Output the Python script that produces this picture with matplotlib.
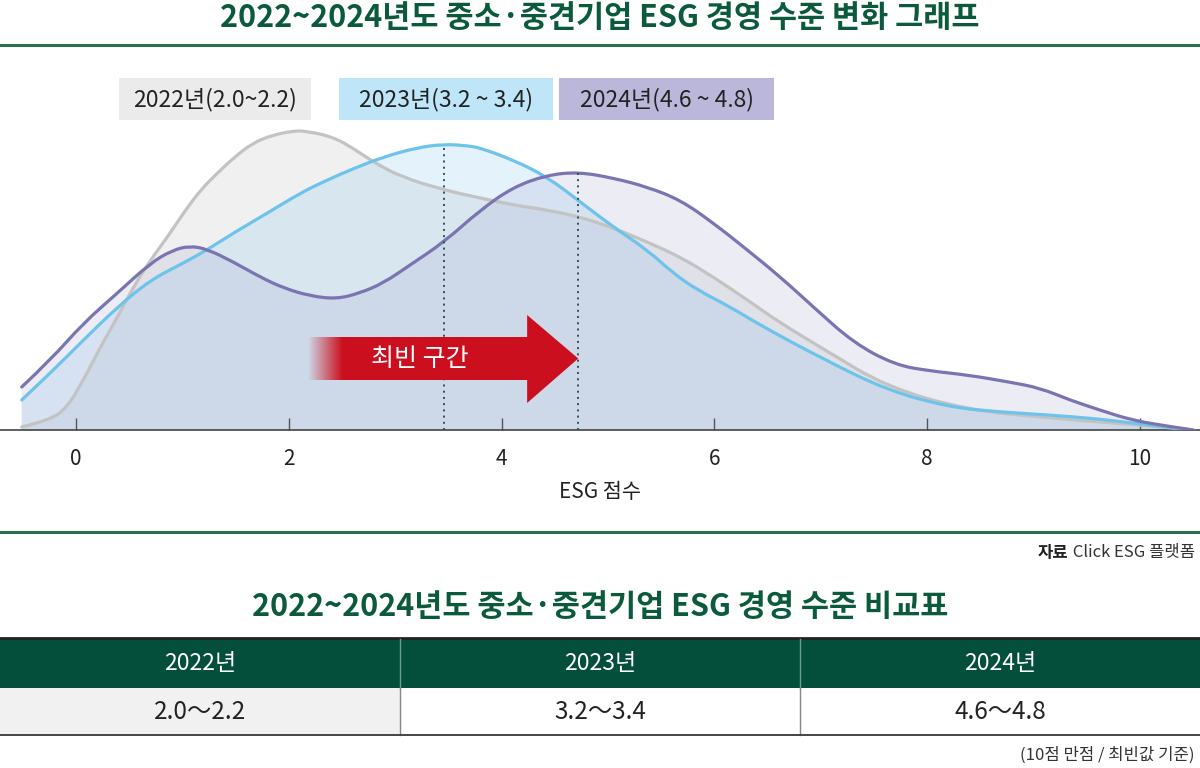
import matplotlib
matplotlib.use('Agg')
import matplotlib.pyplot as plt
import numpy as np
from matplotlib.patches import Rectangle, Polygon, PathPatch
from matplotlib.path import Path

plt.rcParams['font.family'] = ['Noto Sans CJK KR', 'DejaVu Sans']

# ---- data ----
years = ['2022', '2023', '2024']
mode_ranges = ['2.0~2.2', '3.2 ~ 3.4', '4.6 ~ 4.8']
table_ranges = ['2.0～2.2', '3.2～3.4', '4.6～4.8']

x22 = [-0.51, -0.24, -0.08, 0.07, 0.23, 0.39, 0.54, 0.70, 0.86, 1.01, 1.17, 1.33, 1.48, 1.66,
       1.85, 2.04, 2.16, 2.42, 2.63, 2.81, 3.06, 3.46, 3.80, 4.11, 4.43, 4.74, 5.05, 5.37,
       5.68, 5.99, 6.31, 6.62, 7.04, 7.62, 8.38, 9.15, 10.0, 10.5]
y22 = [0.003, 0.010, 0.023, 0.050, 0.083, 0.113, 0.143, 0.170, 0.193, 0.217, 0.240, 0.257,
       0.272, 0.287, 0.295, 0.299, 0.299, 0.293, 0.280, 0.267, 0.253, 0.240, 0.232, 0.225,
       0.220, 0.213, 0.202, 0.188, 0.173, 0.153, 0.130, 0.107, 0.080, 0.043, 0.020, 0.012,
       0.005, 0.000]

x23 = [-0.51, -0.24, 0.07, 0.39, 0.70, 1.01, 1.23, 1.48, 1.80, 2.11, 2.34, 2.62, 2.89, 3.19,
       3.46, 3.70, 3.80, 4.11, 4.43, 4.74, 5.05, 5.37, 5.61, 5.84, 6.15, 6.46, 7.04, 7.62,
       8.20, 8.68, 9.15, 9.62, 10.0, 10.5]
y23 = [0.030, 0.057, 0.090, 0.123, 0.150, 0.167, 0.180, 0.197, 0.217, 0.237, 0.249, 0.262,
       0.273, 0.282, 0.286, 0.284, 0.282, 0.270, 0.253, 0.228, 0.203, 0.180, 0.157, 0.140,
       0.123, 0.103, 0.070, 0.040, 0.023, 0.018, 0.015, 0.011, 0.006, 0.000]

x24 = [-0.51, -0.24, 0.07, 0.39, 0.70, 0.91, 1.07, 1.23, 1.48, 1.73, 1.95, 2.20, 2.45, 2.67,
       2.89, 3.14, 3.46, 3.80, 4.11, 4.43, 4.72, 5.05, 5.37, 5.68, 5.99, 6.31, 6.62, 6.93,
       7.31, 7.70, 8.03, 8.38, 8.77, 9.06, 9.34, 9.62, 9.92, 10.19, 10.5]
y24 = [0.043, 0.070, 0.107, 0.137, 0.167, 0.180, 0.184, 0.181, 0.168, 0.153, 0.142, 0.134,
       0.131, 0.137, 0.147, 0.165, 0.188, 0.220, 0.243, 0.255, 0.258, 0.252, 0.243, 0.230,
       0.207, 0.180, 0.153, 0.123, 0.087, 0.065, 0.059, 0.055, 0.048, 0.042, 0.030, 0.020,
       0.010, 0.005, 0.000]

xticks = [0, 2, 4, 6, 8, 10]

GREEN = '#0b5a3c'
W, H = 1200, 768


def smooth_path(xs, ys, closed=False):
    # quadratic bezier through midpoints, the read points act as control points
    pts = list(zip(xs, ys))
    verts, codes = [pts[0]], [Path.MOVETO]
    for i in range(1, len(pts) - 1):
        mid = ((pts[i][0] + pts[i + 1][0]) / 2, (pts[i][1] + pts[i + 1][1]) / 2)
        verts += [pts[i], mid]
        codes += [Path.CURVE3, Path.CURVE3]
    verts.append(pts[-1]); codes.append(Path.LINETO)
    if closed:
        verts += [(xs[-1], 0), (xs[0], 0), (xs[0], 0)]
        codes += [Path.LINETO, Path.LINETO, Path.CLOSEPOLY]
    return Path(verts, codes)


fig = plt.figure(figsize=(12, 7.68), dpi=100)

# pixel-space overlay for decorations
bg = fig.add_axes([0, 0, 1, 1], zorder=0)
bg.set_xlim(0, W); bg.set_ylim(H, 0); bg.axis('off')

# chart axes: x=0 at px 76, 106.4 px per unit, baseline at px 430
ppu = 106.4
ax = fig.add_axes([0, (H - 430) / H, 1, 380 / H], zorder=1)
ax.patch.set_alpha(0)

series = [
    (x22, y22, '#b8b8b8', '#c3c3c3'),
    (x23, y23, '#7cc2ec', '#6ec3ea'),
    (x24, y24, '#a2a2cc', '#7a74b0'),
]
for xs, ys, fc, lc in series:
    ax.add_patch(PathPatch(smooth_path(xs, ys, closed=True), facecolor=fc, alpha=0.2,
                           lw=0, zorder=1))
for xs, ys, fc, lc in series:
    ax.add_patch(PathPatch(smooth_path(xs, ys), facecolor='none', edgecolor=lc, lw=2.3,
                           capstyle='round', joinstyle='round', zorder=3))

# dotted mode lines
m23 = int(np.argmax(y23)); m24 = int(np.argmax(y24))
ax.vlines([x23[m23], x24[m24]], 0, [y23[m23], y24[m24]], colors='#2f4f5a',
          linestyles=(0, (1, 2.2)), lw=1.4, zorder=4)

# red gradient arrow toward the 2024 mode
tip = x24[m24]
x0, xh = 2.18, 4.24
bt, bb, ht, hb = 0.093, 0.050, 0.115, 0.027
ym = (bt + bb) / 2
arrow = Polygon([(x0, bb), (xh, bb), (xh, hb), (tip, ym), (xh, ht), (xh, bt), (x0, bt)],
                closed=True, facecolor='none', edgecolor='none', transform=ax.transData)
ax.add_patch(arrow)
grad = np.zeros((1, 400, 4))
grad[..., 0], grad[..., 1], grad[..., 2] = 0.80, 0.06, 0.12
xs_img = np.linspace(x0, tip, 400)
grad[0, :, 3] = np.clip((xs_img - x0) / 0.32, 0, 1)
im = ax.imshow(grad, extent=(x0, tip, hb, ht), aspect='auto', zorder=5, interpolation='bilinear')
im.set_clip_path(arrow)
ax.set_xlim(-76 / ppu, (W - 76) / ppu)
ax.set_ylim(0, 0.38)
ax.text(3.23, ym, '최빈 구간', color='white', fontsize=18, ha='center', va='center',
        fontweight='medium', zorder=6)

# axis styling
for s in ['top', 'right', 'left']:
    ax.spines[s].set_visible(False)
ax.spines['bottom'].set_color('#444444')
ax.spines['bottom'].set_linewidth(1.2)
ax.set_yticks([])
ax.set_xticks(xticks)
ax.set_xticklabels([str(t) for t in xticks])
ax.tick_params(axis='x', direction='in', length=9, width=1, color='#555555',
               labelsize=15, labelcolor='#222222', pad=13)
ax.set_xlabel('ESG 점수', fontsize=15, color='#222222', labelpad=8)

# titles and rules
bg.text(600, 18, '2022~2024년도 중소·중견기업 ESG 경영 수준 변화 그래프', fontsize=22,
        fontweight='bold', color=GREEN, ha='center', va='center')
bg.plot([0, W], [45, 45], color='#2e6e50', lw=2.2)
bg.plot([0, W], [532, 532], color='#2e6e50', lw=2.2)

# legend boxes
box_x = [119, 339, 559]
box_w = [192, 214, 215]
box_c = ['#ebebeb', '#bfe6f8', '#bbb7da']
for i in range(3):
    bg.add_patch(Rectangle((box_x[i], 78), box_w[i], 42, facecolor=box_c[i], edgecolor='none'))
    bg.text(box_x[i] + box_w[i] / 2, 100, f'{years[i]}년({mode_ranges[i]})', fontsize=16.5,
            color='#222222', ha='center', va='center')

# source
src = bg.text(1195, 553, ' Click ESG 플랫폼', fontsize=12, color='#333333', ha='right', va='center')
bg.annotate('자료', xy=(0, 0.5), xycoords=src, fontsize=12, fontweight='bold', color='#222222',
            ha='right', va='center')

# table
bg.text(600, 607, '2022~2024년도 중소·중견기업 ESG 경영 수준 비교표', fontsize=22,
        fontweight='bold', color=GREEN, ha='center', va='center')
col_x = [0, 400, 800, 1200]
bg.add_patch(Rectangle((0, 639), W, 49, facecolor='#034f3b', edgecolor='none'))
bg.plot([0, W], [638, 638], color='#222222', lw=2)
for i in range(3):
    bg.add_patch(Rectangle((col_x[i], 688), 400, 47,
                           facecolor='#f1f1f1' if i == 0 else 'white', edgecolor='none'))
    cx = (col_x[i] + col_x[i + 1]) / 2
    bg.text(cx, 664, f'{years[i]}년', fontsize=16.5, color='white', ha='center', va='center')
    bg.text(cx, 712, table_ranges[i], fontsize=17.5, color='#222222', ha='center', va='center')
for cx in col_x[1:3]:
    bg.plot([cx, cx], [639, 688], color='#6f9c8a', lw=1)
    bg.plot([cx, cx], [688, 735], color='#888888', lw=1)
bg.plot([0, W], [735, 735], color='#444444', lw=1.4)
bg.text(1195, 755, '(10점 만점 / 최빈값 기준)', fontsize=12, color='#333333', ha='right', va='center')

fig.savefig('out.png', dpi=100)
